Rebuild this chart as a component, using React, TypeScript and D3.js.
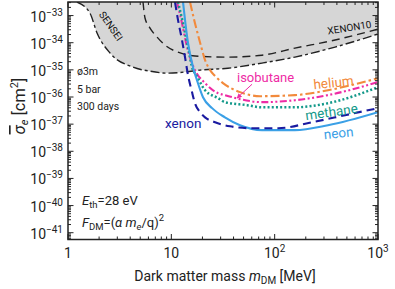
import React from 'react';
import * as d3 from 'd3';

const W = 395;
const H = 289;
const plot = { left: 68, right: 378, top: 2, bottom: 239.5 };

// masses in MeV, cross sections as log10(sigma_e / cm^2)
const senseiMass = [1.22, 1.63, 1.91, 2.55, 4.26, 6.22, 9.08, 13.56, 18.93, 35.3, 75.4, 157, 384, 1000];
const senseiLogSigma = [-32.5, -32.91, -33.64, -34.38, -34.9, -35.05, -35.12, -35.08, -35.01, -34.94, -34.75, -34.53, -34.16, -33.68];

const xenon10Mass = [5.32, 5.56, 6.22, 7.26, 8.69, 11.6, 16.94, 35.3, 75.4, 157, 384, 1000];
const xenon10LogSigma = [-32.5, -33.09, -33.46, -33.79, -34.09, -34.35, -34.49, -34.53, -34.46, -34.2, -33.9, -33.5];

const xenonMass = [10.85, 11.6, 12.68, 13.56, 14.5, 15.85, 16.94, 18.93, 21.2, 26.5, 37, 57.7, 108, 230, 480, 1000];
const xenonLogSigma = [-32.5, -33.16, -33.9, -34.53, -35.19, -35.82, -36.23, -36.56, -36.75, -36.93, -37.08, -37.15, -37.15, -36.93, -36.67, -36.41];

const neonMass = [12.97, 13.56, 14.5, 16.2, 17.7, 20.25, 24.8, 33, 46.2, 75.4, 157, 328, 1000];
const neonLogSigma = [-32.5, -33.16, -34.01, -34.9, -35.38, -36.01, -36.41, -36.75, -37.04, -37.22, -37.22, -37.04, -36.56];

const isobutaneMass = [11.34, 12.68, 14.18, 15.85, 16.94, 21.2, 28.3, 33, 46.2, 75.4, 157, 328, 1000];
const isobutaneLogSigma = [-32.5, -33.28, -34.16, -34.75, -35.01, -35.49, -35.86, -35.93, -36.08, -36.19, -36.12, -35.93, -35.45];

const methaneMass = [11.6, 12.97, 14.5, 16.2, 16.94, 21.2, 28.3, 33, 54, 75.4, 157, 328, 1000];
const methaneLogSigma = [-32.5, -33.28, -34.16, -35.01, -35.12, -35.75, -36.04, -36.19, -36.3, -36.38, -36.38, -36.23, -35.64];

const heliumMass = [15.16, 16.94, 18.93, 21.2, 23.7, 26.5, 31.6, 46.2, 72.1, 157, 328, 1000];
const heliumLogSigma = [-32.5, -33.28, -33.98, -34.64, -35.01, -35.23, -35.49, -35.82, -35.97, -35.93, -35.75, -35.31];

const xMajor = [1, 10, 100, 1000];
const xMajorLabels = [['1', ''], ['10', ''], ['10', '2'], ['10', '3']];
const yMajorExp = [-41, -40, -39, -38, -37, -36, -35, -34, -33];

const FONT = 'Roboto, "Noto Sans", sans-serif';

const x = d3.scaleLog().domain([1, 1000]).range([plot.left, plot.right]);
const y = d3.scaleLog().domain([10 ** -41.25, 10 ** -32.5]).range([plot.bottom, plot.top]);

type Pt = [number, number];
const zip = (m: number[], s: number[]): Pt[] => m.map((v, i) => [v, 10 ** s[i]]);

const line = d3
  .line<Pt>()
  .x((d) => x(d[0]))
  .y((d) => y(d[1]))
  .curve(d3.curveMonotoneX);

const shade = d3
  .area<Pt>()
  .x((d) => x(d[0]))
  .y0(plot.top)
  .y1((d) => y(d[1]))
  .curve(d3.curveMonotoneX);

const series = [
  { key: 'sensei', pts: zip(senseiMass, senseiLogSigma), color: '#222', dash: '9,3,3,3', w: 1.4 },
  { key: 'xenon10', pts: zip(xenon10Mass, xenon10LogSigma), color: '#222', dash: '8,5', w: 1.4 },
  { key: 'helium', pts: zip(heliumMass, heliumLogSigma), color: '#f28a3c', dash: '9,3,2.5,3', w: 2.1 },
  { key: 'isobutane', pts: zip(isobutaneMass, isobutaneLogSigma), color: '#ee2ba5', dash: '7,2.5,2,2.5,2,2.5', w: 2.1 },
  { key: 'methane', pts: zip(methaneMass, methaneLogSigma), color: '#13998a', dash: '2,2.2', w: 2.5 },
  { key: 'neon', pts: zip(neonMass, neonLogSigma), color: '#3ba0e6', dash: '', w: 2.1 },
  { key: 'xenon', pts: zip(xenonMass, xenonLogSigma), color: '#1a1aa0', dash: '8,5', w: 2.1 },
];

const minorTicks = (lo: number, hi: number, dom: [number, number]) => {
  const out: number[] = [];
  for (let k = lo; k <= hi; k++) {
    for (let m = 2; m <= 9; m++) {
      const v = m * 10 ** k;
      if (v > dom[0] && v < dom[1]) out.push(v);
    }
  }
  return out;
};

export default function App() {
  const xMinor = minorTicks(0, 2, [1, 1000]);
  const yMinor = minorTicks(-42, -33, [10 ** -41.25, 10 ** -32.5]);
  const bigTick = 5.5;
  const smallTick = 3;
  const labelPos = (m: number, ls: number) => `translate(${x(m)},${y(10 ** ls)})`;

  return (
    <svg width={W} height={H} style={{ position: 'absolute', left: 0, top: 0, background: '#fff' }} fontFamily={FONT}>
      <defs>
        <clipPath id="plotclip">
          <rect x={plot.left} y={plot.top} width={plot.right - plot.left} height={plot.bottom - plot.top} />
        </clipPath>
        <marker id="arr" viewBox="0 0 10 10" refX="9" refY="5" markerWidth="5" markerHeight="5" orient="auto">
          <path d="M0,0 L10,5 L0,10 z" fill="#ee2ba5" />
        </marker>
      </defs>

      <g clipPath="url(#plotclip)">
        <path d={shade(series[0].pts) ?? ''} fill="#d6d6d6" />
        {series.map((s) => (
          <path
            key={s.key}
            d={line(s.pts) ?? ''}
            fill="none"
            stroke={s.color}
            strokeWidth={s.w}
            strokeDasharray={s.dash || undefined}
          />
        ))}
      </g>

      {/* ticks on all four sides, pointing inward */}
      <g stroke="#222" strokeWidth={1}>
        {xMajor.map((v) => (
          <g key={'xM' + v}>
            <line x1={x(v)} x2={x(v)} y1={plot.bottom} y2={plot.bottom - bigTick} />
            <line x1={x(v)} x2={x(v)} y1={plot.top} y2={plot.top + bigTick} />
          </g>
        ))}
        {xMinor.map((v) => (
          <g key={'xm' + v}>
            <line x1={x(v)} x2={x(v)} y1={plot.bottom} y2={plot.bottom - smallTick} />
            <line x1={x(v)} x2={x(v)} y1={plot.top} y2={plot.top + smallTick} />
          </g>
        ))}
        {yMajorExp.map((e) => (
          <g key={'yM' + e}>
            <line x1={plot.left} x2={plot.left + bigTick} y1={y(10 ** e)} y2={y(10 ** e)} />
            <line x1={plot.right} x2={plot.right - bigTick} y1={y(10 ** e)} y2={y(10 ** e)} />
          </g>
        ))}
        {yMinor.map((v, i) => (
          <g key={'ym' + i}>
            <line x1={plot.left} x2={plot.left + smallTick} y1={y(v)} y2={y(v)} />
            <line x1={plot.right} x2={plot.right - smallTick} y1={y(v)} y2={y(v)} />
          </g>
        ))}
      </g>
      <rect
        x={plot.left}
        y={plot.top}
        width={plot.right - plot.left}
        height={plot.bottom - plot.top}
        fill="none"
        stroke="#222"
        strokeWidth={1.5}
      />

      {/* tick labels */}
      <g fontSize={14} fill="#222">
        {xMajor.map((v, i) => (
          <text key={'xl' + v} x={x(v)} y={plot.bottom + 18} textAnchor="middle">
            {xMajorLabels[i][0]}
            {xMajorLabels[i][1] && (
              <tspan dy={-6} fontSize={10}>
                {xMajorLabels[i][1]}
              </tspan>
            )}
          </text>
        ))}
        {yMajorExp.map((e) => (
          <text key={'yl' + e} x={plot.left - 5} y={y(10 ** e) + 6} textAnchor="end">
            10
            <tspan dy={-6} fontSize={10}>
              {'\u2212' + Math.abs(e)}
            </tspan>
          </text>
        ))}
      </g>

      {/* axis titles */}
      <text x={(plot.left + plot.right) / 2 + 2} y={281} textAnchor="middle" fontSize={14} fill="#222">
        Dark matter mass <tspan fontStyle="italic">m</tspan>
        <tspan dy={3} fontSize={10}>DM</tspan>
        <tspan dy={-3}> [MeV]</tspan>
      </text>
      <text transform="translate(25,106) rotate(-90)" textAnchor="middle" fontSize={16.5} fill="#222">
        <tspan fontStyle="italic" textDecoration="overline">σ</tspan>
        <tspan dy={3} fontSize={11} fontStyle="italic">e</tspan>
        <tspan dy={-3}> [cm</tspan>
        <tspan dy={-7} fontSize={11}>2</tspan>
        <tspan dy={7}>]</tspan>
      </text>

      {/* experiment annotations */}
      <g fontSize={10.5} fill="#222">
        <text x={77} y={75}>ø3m</text>
        <text x={77} y={93}>5 bar</text>
        <text x={77} y={110}>300 days</text>
      </g>
      <g fontSize={13} fill="#222">
        <text x={82} y={205}>
          <tspan fontStyle="italic">E</tspan>
          <tspan dy={3} fontSize={9.5}>th</tspan>
          <tspan dy={-3}>=28 eV</tspan>
        </text>
        <text x={82} y={227}>
          <tspan fontStyle="italic">F</tspan>
          <tspan dy={3} fontSize={9.5}>DM</tspan>
          <tspan dy={-3}>=(</tspan>
          <tspan fontStyle="italic">α m</tspan>
          <tspan dy={3} fontSize={9.5} fontStyle="italic">e</tspan>
          <tspan dy={-3}>/q)</tspan>
          <tspan dy={-6} fontSize={9.5}>2</tspan>
        </text>
      </g>

      {/* limit labels */}
      <text transform={labelPos(2.44, -33.46) + ' rotate(55)'} textAnchor="middle" fontSize={10} fill="#111">
        SENSEI
      </text>
      <text transform={labelPos(536, -33.57) + ' rotate(-9)'} textAnchor="middle" fontSize={10} fill="#111">
        XENON10
      </text>

      {/* curve labels */}
      <text transform={labelPos(375, -35.64) + ' rotate(-6)'} textAnchor="middle" fontSize={13.5} fill="#f28a3c">
        helium
      </text>
      <text transform={labelPos(43.2, -35.45)} fontSize={13} fill="#ee2ba5">
        isobutane
      </text>
      <line
        x1={x(60.4)}
        y1={y(10 ** -35.53)}
        x2={x(43.2)}
        y2={y(10 ** -36.04)}
        stroke="#ee2ba5"
        strokeWidth={1}
        markerEnd="url(#arr)"
      />
      <text transform={labelPos(360, -36.72) + ' rotate(-8)'} textAnchor="middle" fontSize={13.5} fill="#13998a">
        methane
      </text>
      <text transform={labelPos(420, -37.5) + ' rotate(-6)'} textAnchor="middle" fontSize={13.5} fill="#3ba0e6">
        neon
      </text>
      <text transform={labelPos(8.69, -37.15)} fontSize={13.5} fill="#1a1aa0">
        xenon
      </text>
    </svg>
  );
}
